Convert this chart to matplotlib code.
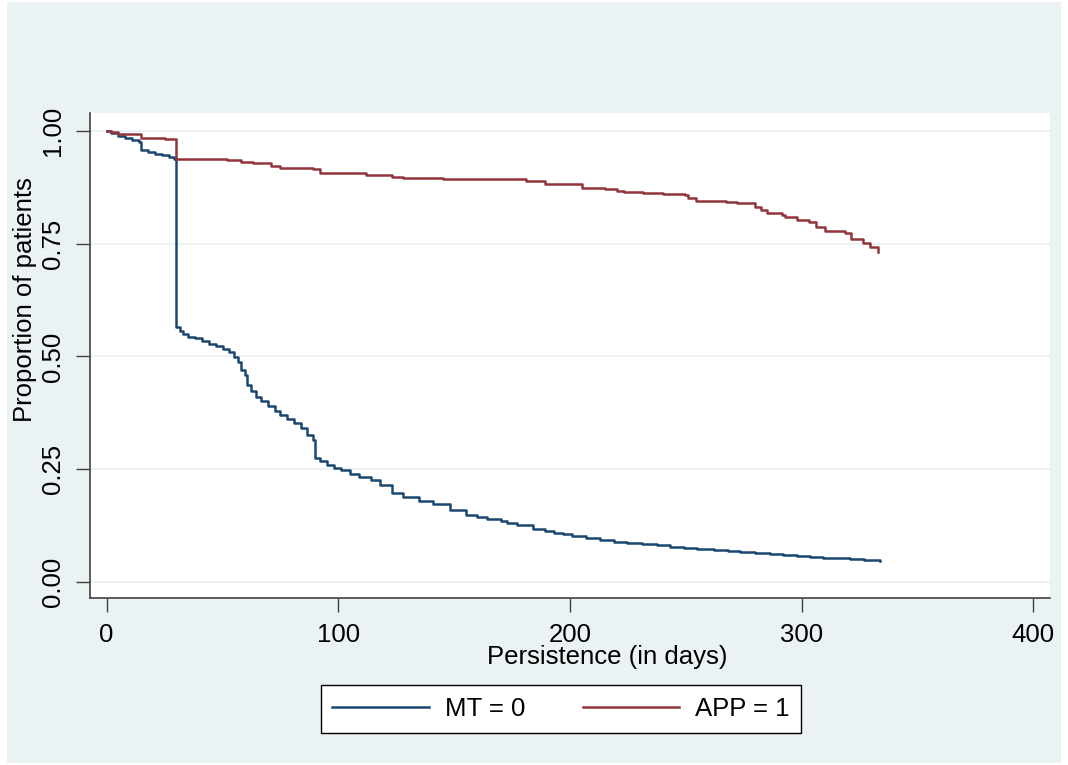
import matplotlib
matplotlib.use("Agg")
import matplotlib.pyplot as plt
from matplotlib.patches import Rectangle
from matplotlib.lines import Line2D

# ---- data ----
mt_time = [0, 2, 5, 8, 11, 14, 15, 18, 21, 24, 27, 29, 30, 31.5, 33, 35, 38, 41, 44, 47,
           50, 53, 55, 56.5, 58, 59.5, 60.5, 62.5, 64.5, 66.5, 69.5, 72.5, 75, 78, 81, 84,
           86.5, 89, 90, 92, 95, 98, 101, 105, 109, 114, 118, 123, 128, 135, 141, 148, 155,
           160, 164, 170, 173, 177, 184, 189, 193, 197, 201, 207, 213, 219, 224.5, 231,
           237.4, 243, 249, 255, 262, 268, 273.4, 280, 286.3, 292, 297.8, 303.5, 309.3,
           315, 321, 327, 333.8]
mt_surv = [1.0, 0.995, 0.99, 0.985, 0.98, 0.975, 0.957, 0.953, 0.949, 0.946, 0.943, 0.938,
           0.5645, 0.557, 0.550, 0.544, 0.540, 0.535, 0.527, 0.522, 0.516, 0.509, 0.498,
           0.488, 0.470, 0.459, 0.437, 0.424, 0.411, 0.400, 0.389, 0.378, 0.370, 0.362,
           0.352, 0.341, 0.326, 0.315, 0.274, 0.268, 0.259, 0.253, 0.247, 0.240, 0.233,
           0.225, 0.214, 0.1975, 0.1886, 0.180, 0.1724, 0.159, 0.148, 0.143, 0.1384,
           0.1353, 0.131, 0.1258, 0.117, 0.113, 0.109, 0.105, 0.1014, 0.097, 0.0925,
           0.089, 0.0866, 0.084, 0.0814, 0.078, 0.0754, 0.073, 0.0703, 0.0677, 0.0652,
           0.063, 0.0615, 0.059, 0.057, 0.055, 0.0533, 0.052, 0.0504, 0.0485, 0.0466]

app_time = [0, 2, 5, 15, 25, 30, 44, 52, 58, 63, 71, 75, 89, 92, 112, 123, 128, 145, 181,
            189, 205, 215, 220.5, 223.5, 231.5, 240, 249.5, 251, 254.5, 267.5, 272, 278.5,
            280, 282.5, 285, 291.5, 293, 298, 303, 306, 310, 318.5, 321.5, 326.5, 329.5, 333]
app_surv = [1.0, 0.997, 0.993, 0.984, 0.982, 0.939, 0.937, 0.936, 0.932, 0.928, 0.923,
            0.919, 0.915, 0.906, 0.902, 0.899, 0.895, 0.8935, 0.8897, 0.8824, 0.8728,
            0.8713, 0.8676, 0.864, 0.8617, 0.8595, 0.858, 0.8507, 0.8453, 0.843, 0.8409,
            0.8395, 0.8307, 0.8247, 0.8173, 0.8136, 0.8084, 0.8025, 0.7988, 0.7877, 0.7788,
            0.773, 0.7597, 0.7522, 0.7433, 0.7308]

labels = ["MT = 0", "APP = 1"]
x_ticks = [0, 100, 200, 300, 400]
y_ticks = [0.00, 0.25, 0.50, 0.75, 1.00]
y_ticklabels = ["0.00", "0.25", "0.50", "0.75", "1.00"]
x_label = "Persistence (in days)"
y_label = "Proportion of patients"

# ---- style ----
BLUE = "#1A476F"
RED = "#90353B"
BG = "#EAF2F3"
plt.rcParams['font.family'] = ['Liberation Sans', 'DejaVu Sans']
FS = 18.5
LW = 1.8

W, H = 1068, 765
fig = plt.figure(figsize=(W / 100, H / 100), dpi=100, facecolor="white")
fig.patches.append(Rectangle((7 / W, 2 / H), (W - 14) / W, (H - 4) / H,
                             transform=fig.transFigure, facecolor=BG,
                             edgecolor="none", zorder=-10))

ax = fig.add_axes([90 / W, (H - 598) / H, 960 / W, (598 - 113) / H])
ax.set_facecolor("white")

ax.step(mt_time, mt_surv, where="post", color=BLUE, lw=LW, label=labels[0], zorder=3)
ax.step(app_time, app_surv, where="post", color=RED, lw=LW, label=labels[1], zorder=3)

ax.set_xlim(-7.2, 407.2)
ax.set_ylim(-0.036, 1.040)
ax.set_xticks(x_ticks)
ax.set_yticks(y_ticks)
ax.set_yticklabels(y_ticklabels, rotation=90, va="center")
ax.tick_params(axis="both", direction="out", length=10, width=1, color="#404040",
               labelsize=FS, labelcolor="black")
ax.tick_params(axis="x", pad=8)
ax.tick_params(axis="y", pad=8)
ax.yaxis.grid(True, color=BG, lw=1.4, zorder=0)
ax.set_axisbelow(True)
for s in ["top", "right"]:
    ax.spines[s].set_visible(False)
for s in ["left", "bottom"]:
    ax.spines[s].set_color("#404040")
    ax.spines[s].set_linewidth(1.2)

fig.text(607 / W, 1 - 657 / H, x_label, ha="center", va="center", fontsize=FS)
fig.text(25 / W, 1 - 300 / H, y_label, ha="center", va="center", fontsize=FS,
         rotation=90)

handles, lbls = ax.get_legend_handles_labels()
handles = [Line2D([], [], color=BLUE, lw=LW), Line2D([], [], color=RED, lw=LW)]
leg = fig.legend(handles, lbls, loc="center", bbox_to_anchor=(561 / W, 1 - 709 / H),
                 ncol=2, fontsize=FS, frameon=True, fancybox=False, handlelength=3.75,
                 handletextpad=0.62, columnspacing=2.25, borderpad=0.45,
                 borderaxespad=0)
leg.get_frame().set_edgecolor("black")
leg.get_frame().set_linewidth(1.0)
leg.get_frame().set_facecolor("white")
leg.get_frame().set_alpha(1)

fig.savefig("out.png", dpi=100, facecolor="white")
